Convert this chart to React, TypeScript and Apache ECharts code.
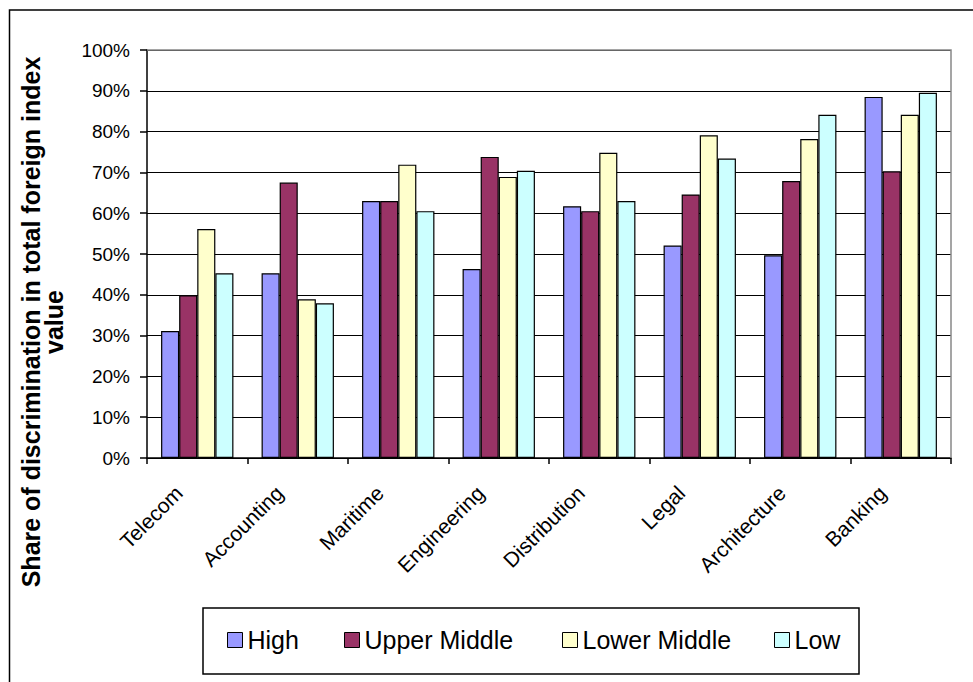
import React, { useEffect, useRef } from "react";
import * as echarts from "echarts";

const categories = ["Telecom", "Accounting", "Maritime", "Engineering", "Distribution", "Legal", "Architecture", "Banking"];
const seriesNames = ["High", "Upper Middle", "Lower Middle", "Low"];
const high = [31.1, 45.3, 63.0, 46.3, 61.7, 52.1, 49.7, 88.5];
const upperMiddle = [39.9, 67.5, 63.0, 73.8, 60.5, 64.6, 67.9, 70.3];
const lowerMiddle = [56.1, 38.9, 71.9, 68.9, 74.8, 79.1, 78.2, 84.1];
const low = [45.3, 37.9, 60.5, 70.4, 63.0, 73.4, 84.1, 89.5];
const yTicks = { min: 0, max: 100, interval: 10 };
const colors = ["#9999FF", "#993366", "#FFFFCC", "#CCFFFF"];
const yTitle = "Share of discrimination in total foreign index\nvalue";

export default function App() {
  const ref = useRef<HTMLDivElement>(null);
  useEffect(() => {
    if (!ref.current) return;
    const chart = echarts.init(ref.current, null, { renderer: "svg" });
    const values = [high, upperMiddle, lowerMiddle, low];
    const legendLefts = [227, 344, 562, 774];
    const font = "Arial, 'Liberation Sans', sans-serif";
    chart.setOption({
      animation: false,
      backgroundColor: "#fff",
      textStyle: { fontFamily: font, color: "#000" },
      grid: { left: 147, right: 22, top: 50, bottom: 224, containLabel: false },
      legend: seriesNames.map((n, i) => ({
        data: [n],
        left: legendLefts[i],
        top: 627,
        padding: 0,
        itemWidth: 15,
        itemHeight: 15,
        itemGap: 0,
        icon: "rect",
        itemStyle: { borderColor: "#000", borderWidth: 1 },
        textStyle: { fontSize: 25, fontFamily: font, color: "#000", lineHeight: 26 },
        selectedMode: false,
      })),
      xAxis: {
        type: "category",
        data: categories,
        boundaryGap: true,
        axisLine: { lineStyle: { color: "#000", width: 1.5 } },
        axisTick: { show: true, length: 6, inside: false, lineStyle: { color: "#000", width: 1.5 } },
        axisLabel: {
          rotate: 45,
          fontSize: 21,
          color: "#000",
          fontFamily: font,
          margin: 13,
          interval: 0,
          padding: [0, 26, 0, 0],
        },
      },
      yAxis: {
        type: "value",
        min: yTicks.min,
        max: yTicks.max,
        interval: yTicks.interval,
        axisLine: { show: true, lineStyle: { color: "#000", width: 1.5 } },
        axisTick: { show: true, length: 7, inside: false, lineStyle: { color: "#000", width: 1.5 } },
        axisLabel: { formatter: "{value}%", fontSize: 19, color: "#000", fontFamily: font, margin: 17 },
        splitLine: { show: true, lineStyle: { color: "#000", width: 1.2 } },
      },
      series: seriesNames.map((n, i) => ({
        name: n,
        type: "bar",
        data: values[i],
        barGap: "0%",
        barCategoryGap: "28%",
        itemStyle: { color: colors[i], borderColor: "#000", borderWidth: 1.2 },
      })),
      graphic: [
        {
          type: "rect",
          shape: { x: 9.5, y: 10, width: 1000, height: 700 },
          style: { fill: "none", stroke: "#000", lineWidth: 1.5 },
          silent: true,
        },
        {
          type: "polyline",
          shape: { points: [[147, 50], [951, 50], [951, 458]] },
          style: { fill: "none", stroke: "#888", lineWidth: 1.5 },
          silent: true,
          z: 100,
        },
        {
          type: "rect",
          shape: { x: 203, y: 608, width: 656, height: 66 },
          style: { fill: "none", stroke: "#000", lineWidth: 1.5 },
          silent: true,
        },
        {
          type: "text",
          x: 42,
          y: 322,
          rotation: Math.PI / 2,
          style: {
            text: yTitle,
            fontSize: 25,
            fontWeight: "bold",
            fontFamily: font,
            fill: "#000",
            align: "center",
            verticalAlign: "middle",
            lineHeight: 23,
          },
          silent: true,
        },
      ],
    });
    return () => chart.dispose();
  }, []);
  return <div ref={ref} style={{ position: "fixed", left: 0, top: 0, width: 973, height: 682 }} />;
}
